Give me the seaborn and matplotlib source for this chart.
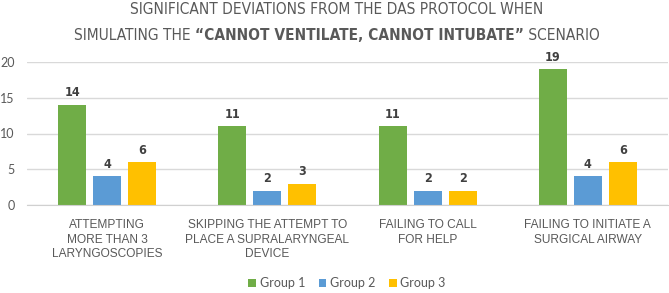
import matplotlib
matplotlib.use("Agg")
import matplotlib.pyplot as plt
import pandas as pd
import seaborn as sns

categories = [
    "ATTEMPTING\nMORE THAN 3\nLARYNGOSCOPIES",
    "SKIPPING THE ATTEMPT TO\nPLACE A SUPRALARYNGEAL\nDEVICE",
    "FAILING TO CALL\nFOR HELP",
    "FAILING TO INITIATE A\nSURGICAL AIRWAY",
]
groups = ["Group 1", "Group 2", "Group 3"]
group1 = [14, 11, 11, 19]
group2 = [4, 2, 2, 4]
group3 = [6, 3, 2, 6]
colors = ["#70AD47", "#5B9BD5", "#FFC000"]

df = pd.DataFrame({
    "category": categories * 3,
    "group": [g for g in groups for _ in categories],
    "count": group1 + group2 + group3,
})

sns.set_style("white")
plt.rcParams["font.family"] = ["Lato", "DejaVu Sans"]
gray = "#595959"
narrow = ["DejaVu Sans"]

W, H = 669, 293
fig = plt.figure(figsize=(W / 100, H / 100), dpi=100)
ax = fig.add_axes([27 / W, 1 - 205 / H, 641 / W, 143 / H])

sns.barplot(data=df, x="category", y="count", hue="group", palette=colors,
            saturation=1, width=0.655, gap=0.2, linewidth=0, ax=ax)

ax.set_xlim(-0.5, 3.5)
ax.set_ylim(0, 20)
ax.set_yticks([0, 5, 10, 15, 20])
ax.set_xlabel("")
ax.set_ylabel("")
ax.yaxis.grid(True, color="#D9D9D9", lw=1)
ax.set_axisbelow(True)
for s in ["top", "right", "left"]:
    ax.spines[s].set_visible(False)
ax.spines["bottom"].set_color("#D0D0D0")
ax.tick_params(axis="y", length=0, pad=9, labelsize=9, labelcolor=gray)
ax.tick_params(axis="x", length=0, pad=10, labelsize=8.6, labelcolor=gray)
for lab in ax.get_xticklabels():
    lab.set_linespacing(1.3)
    lab.set_family(["Liberation Sans", "DejaVu Sans"])

for c in ax.containers:
    ax.bar_label(c, padding=4, fontsize=9, color="#404040",
                 family=narrow, fontstretch="condensed", fontweight="bold")

ax.legend(loc="center", bbox_to_anchor=(347 / W, 1 - 283 / H),
          bbox_transform=fig.transFigure, ncol=3, frameon=False,
          fontsize=9, handlelength=0.6, handleheight=0.6,
          handletextpad=0.3, columnspacing=1.1, labelcolor=gray)

# title, second line has a bold middle part
line1 = "SIGNIFICANT DEVIATIONS FROM THE DAS PROTOCOL WHEN"
parts = ["SIMULATING THE ", "\u201cCANNOT VENTILATE, CANNOT INTUBATE\u201d", " SCENARIO"]
weights = ["normal", "bold", "normal"]
cx = 337 / W
r = fig.canvas.get_renderer()

t1 = fig.text(cx, 1 - 10 / H, line1, ha="center", va="center",
              fontsize=15, color=gray, family=narrow, fontstretch="condensed")
tsize = 15 * 418 / t1.get_window_extent(r).width
t1.set_fontsize(tsize)

texts = [fig.text(0, 1 - 36 / H, p, ha="left", va="center", fontsize=tsize,
                  color=gray, family=narrow, fontstretch="condensed",
                  fontweight=w)
         for p, w in zip(parts, weights)]
widths = [t.get_window_extent(r).width for t in texts]
x = cx * W - sum(widths) / 2
for t, w in zip(texts, widths):
    t.set_x(x / W)
    x += w

fig.savefig("out.png", dpi=100)
